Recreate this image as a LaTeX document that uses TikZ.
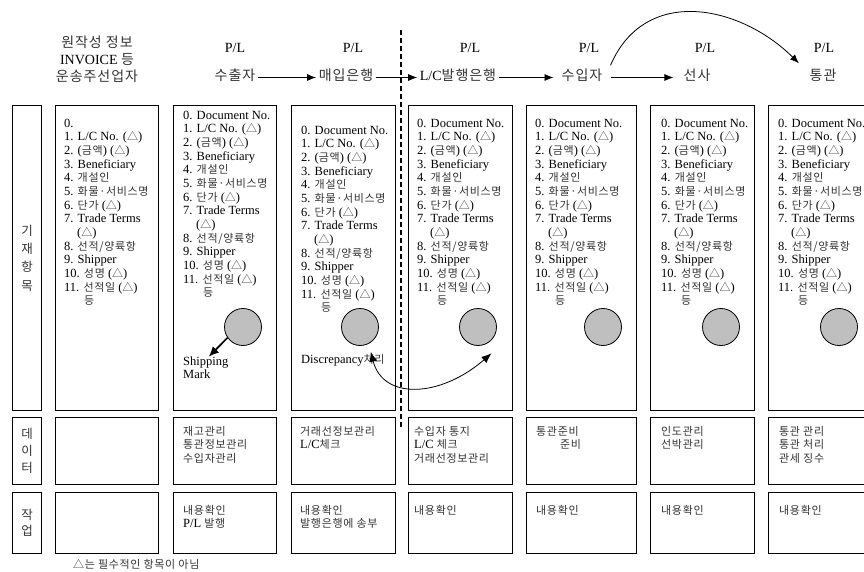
\documentclass[tikz,border=0pt]{standalone}
\usepackage{fontspec}
\setmainfont{Liberation Serif}
\newfontfamily\krfont[Scale=0.88,LetterSpace=6]{Noto Sans CJK KR}
\newfontfamily\krhead[Scale=1.0,LetterSpace=7]{Noto Sans CJK KR}
\newcommand\ko[1]{{\krfont\color{black!80}#1}}
\newcommand\kh[1]{{\krhead\color{black!80}#1}}
\usetikzlibrary{arrows.meta}

% items common to every P/L column
\newcommand\restitems{1. L/C No. (\ko{△})\\
  2. (\ko{금액}) (\ko{△})\\
  3. Beneficiary\\
  4. \ko{개설인}\\
  5. \ko{화물·서비스명}\\
  6. \ko{단가} (\ko{△})\\
  7. Trade Terms\\
  \hspace*{13pt}(\ko{△})\\
  8. \ko{선적/양륙항}\\
  9. Shipper\\
  10. \ko{성명} (\ko{△})\\
  11. \ko{선적일} (\ko{△})\\
  \hspace*{20pt}\ko{등}}
\newcommand\docitems{\strut 0. Document No.\\\restitems}

\tikzset{
  box/.style={draw, line width=1pt, anchor=north west, inner sep=0pt},
  lst/.style={anchor=north west, inner sep=0pt, align=left, font=\fontsize{12.5}{13.67}\selectfont},
  hdr/.style={anchor=base, inner sep=2.5pt, font=\fontsize{14}{17}\selectfont, text height=10pt, text depth=3pt},
  flow/.style={-{Latex[length=9pt,width=7pt]}, line width=0.8pt},
  seal/.style={circle, draw, fill=black!25, minimum size=37pt, inner sep=0pt, line width=0.8pt},
  sep/.style={line width=1.6pt, dash pattern=on 5pt off 3pt}
}

\begin{document}
\begin{tikzpicture}[x=1pt,y=-1pt]
\useasboundingbox (0,0) rectangle (864,572);
\clip (0,0) rectangle (864,572);

% header
\node[lst, anchor=north, align=center, font=\fontsize{14}{17}\selectfont] (origin) at (97,35.1)
  {\strut\kh{원작성 정보}\\INVOICE \kh{등}\\\kh{운송주선업자}};
\foreach \x [count=\n] in {235,353,470,589,705,824}
  \node[hdr] (pl\n) at (\x,53) {P/L};
\node[hdr] (exporter) at (235,81) {\kh{수출자}};
\node[hdr] (nego) at (346,81) {\kh{매입은행}};
\node[hdr] (issuing) at (458,81) {L/C\kh{발행은행}};
\node[hdr, inner xsep=8pt] (importer) at (582,81) {\kh{수입자}};
\node[hdr, inner xsep=10pt] (carrier) at (697,81) {\kh{선사}};
\node[hdr] (customs) at (823,81) {\kh{통관}};
\draw[flow] (exporter) -- (nego);
\draw[flow] (nego) -- (issuing);
\draw[flow] (issuing) -- (importer);
\draw[flow] (importer) -- (carrier);
\draw[flow] ([yshift=3pt]importer.north east) .. controls (645,-15) and (740,5) .. ([xshift=-8pt,yshift=5pt]customs.north west);

% row labels
\node[box, minimum width=29pt, minimum height=305pt, align=center, font=\fontsize{12.5}{18.3}\selectfont] (lblitems) at (12,105)
  {\kh{기}\\\kh{재}\\\kh{항}\\\kh{목}};
\node[box, minimum width=29pt, minimum height=67pt, align=center, font=\fontsize{12.5}{17.3}\selectfont] (lbldata) at (12,417)
  {\kh{데}\\\kh{이}\\\kh{터}};
\node[box, minimum width=29pt, minimum height=61pt, align=center, font=\fontsize{12.5}{16}\selectfont] (lbltask) at (12,492)
  {\kh{작}\\\kh{업}};

% column boxes
\foreach \i/\l/\w in {1/55/103pt,2/173/103pt,3/291/104pt,4/408/104pt,5/526/110pt,6/650/104pt,7/768/104pt}{
  \node[box, minimum width=\w, minimum height=305pt] (items\i) at (\l,105) {};
  \node[box, minimum width=\w, minimum height=67pt] (data\i) at (\l,417) {};
  \node[box, minimum width=\w, minimum height=61pt] (task\i) at (\l,492) {};
}

% item lists
\node[lst] (list1) at (64,117.4) {\strut 0.\\\restitems};
\node[lst] (list2) at (183,109.4) {\docitems};
\node[lst] (list3) at (301,124.4) {\docitems};
\node[lst] (list4) at (417,117.4) {\docitems};
\node[lst] (list5) at (535,117.4) {\docitems};
\node[lst] (list6) at (661,117.4) {\docitems};
\node[lst] (list7) at (778,117.4) {\docitems};

\foreach \i/\x in {2/243,3/360,4/478,5/603,6/721,7/839}
  \node[seal] (seal\i) at (\x,327) {};

\node[lst, font=\fontsize{12.5}{12}\selectfont] (ship) at (183,356.6) {\strut Shipping\\Mark};
\draw[-{Latex[length=10pt,width=9pt]}, line width=1.6pt] (seal2.215) -- ([xshift=3pt]ship.north);
\node[anchor=base west, inner sep=0pt, font=\fontsize{12.5}{13.67}\selectfont] (disc) at (301,363) {Discrepancy\ko{처리}};
\draw[{Latex[length=10pt,width=8pt]}-{Latex[length=10pt,width=8pt]}, line width=0.8pt]
  ([xshift=-14pt,yshift=2pt]disc.north east) .. controls (383,400) and (440,398) .. ([shift={(4,10)}]seal4.-60);

% data row
\node[lst] (dtxt2) at (183,425.4) {\strut\ko{재고관리}\\\ko{통관정보관리}\\\ko{수입자관리}};
\node[lst] (dtxt3) at (300,425.4) {\strut\ko{거래선정보관리}\\L/C\ko{체크}};
\node[lst] (dtxt4) at (414,425.4) {\strut\ko{수입자 통지}\\L/C \ko{체크}\\\ko{거래선정보관리}};
\node[lst] (dtxt5) at (536,425.4) {\strut\ko{통관준비}\\\hspace*{24pt}\ko{준비}};
\node[lst] (dtxt6) at (661,425.4) {\strut\ko{인도관리}\\\ko{선박관리}};
\node[lst] (dtxt7) at (779,425.4) {\strut\ko{통관 관리}\\\ko{통관 처리}\\\ko{관세 징수}};

% task row
\node[lst] (ttxt2) at (183,504.4) {\strut\ko{내용확인}\\P/L \ko{발행}};
\node[lst] (ttxt3) at (300,504.4) {\strut\ko{내용확인}\\\ko{발행은행에 송부}};
\node[lst] (ttxt4) at (414,504.4) {\strut\ko{내용확인}};
\node[lst] (ttxt5) at (536,504.4) {\strut\ko{내용확인}};
\node[lst] (ttxt6) at (661,504.4) {\strut\ko{내용확인}};
\node[lst] (ttxt7) at (779,504.4) {\strut\ko{내용확인}};

\node[anchor=base west, inner sep=0pt, font=\fontsize{12.5}{13.67}\selectfont] (note) at (73,568) {\ko{△는 필수적인 항목이 아님}};

% nego / issuing split
\draw[sep] (401,30) -- (401,428);
\end{tikzpicture}
\end{document}
